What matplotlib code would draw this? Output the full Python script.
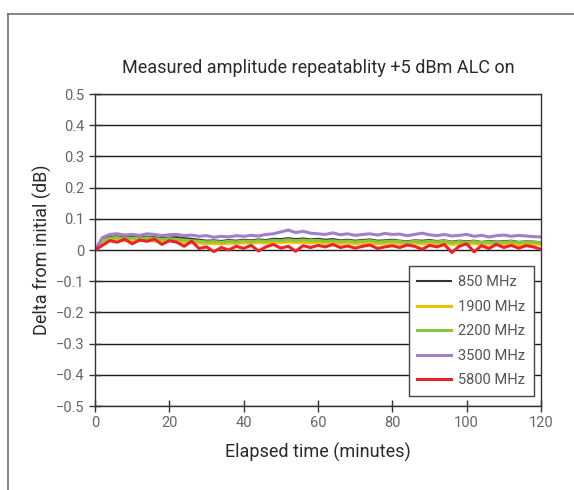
import numpy as np
import matplotlib
matplotlib.use('Agg')
import matplotlib.pyplot as plt
from matplotlib.lines import Line2D

plt.rcParams['font.family'] = ['Roboto', 'DejaVu Sans']

# elapsed time, minutes (2-minute samples)
t = np.arange(0, 121, 2)

mhz_850 = [0.0, 0.035, 0.042, 0.044, 0.040, 0.042, 0.040, 0.043, 0.041, 0.038,
           0.040, 0.041, 0.038, 0.036, 0.033, 0.030, 0.031, 0.029, 0.032, 0.030,
           0.033, 0.031, 0.034, 0.032, 0.036, 0.035, 0.038, 0.035, 0.037, 0.034,
           0.036, 0.033, 0.035, 0.031, 0.033, 0.030, 0.032, 0.034, 0.030, 0.031,
           0.033, 0.030, 0.028, 0.031, 0.030, 0.032, 0.029, 0.031, 0.027, 0.030,
           0.028, 0.030, 0.026, 0.029, 0.027, 0.028, 0.030, 0.026, 0.028, 0.027,
           0.025]
mhz_1900 = [0.0, 0.025, 0.030, 0.033, 0.030, 0.028, 0.030, 0.032, 0.029, 0.027,
            0.030, 0.028, 0.025, 0.024, 0.022, 0.020, 0.021, 0.019, 0.022, 0.021,
            0.023, 0.022, 0.024, 0.022, 0.025, 0.024, 0.026, 0.024, 0.025, 0.023,
            0.025, 0.022, 0.024, 0.021, 0.023, 0.020, 0.022, 0.023, 0.020, 0.021,
            0.023, 0.021, 0.019, 0.022, 0.020, 0.022, 0.020, 0.023, 0.018, 0.020,
            0.019, 0.021, 0.018, 0.020, 0.017, 0.019, 0.021, 0.018, 0.020, 0.019,
            0.018]
mhz_2200 = [0.0, 0.030, 0.038, 0.040, 0.036, 0.038, 0.036, 0.039, 0.037, 0.034,
            0.036, 0.034, 0.032, 0.030, 0.028, 0.026, 0.027, 0.025, 0.028, 0.026,
            0.029, 0.027, 0.030, 0.028, 0.031, 0.030, 0.033, 0.030, 0.032, 0.030,
            0.031, 0.028, 0.030, 0.027, 0.029, 0.026, 0.028, 0.030, 0.026, 0.027,
            0.029, 0.027, 0.025, 0.028, 0.026, 0.028, 0.026, 0.029, 0.024, 0.027,
            0.025, 0.027, 0.024, 0.026, 0.023, 0.025, 0.027, 0.024, 0.026, 0.025,
            0.023]
mhz_3500 = [0.0, 0.040, 0.050, 0.052, 0.048, 0.050, 0.047, 0.052, 0.050, 0.046,
            0.049, 0.050, 0.046, 0.048, 0.044, 0.046, 0.041, 0.044, 0.042, 0.046,
            0.044, 0.047, 0.045, 0.050, 0.052, 0.058, 0.064, 0.056, 0.060, 0.054,
            0.052, 0.050, 0.055, 0.049, 0.052, 0.047, 0.050, 0.052, 0.048, 0.053,
            0.050, 0.051, 0.046, 0.050, 0.054, 0.049, 0.046, 0.050, 0.045, 0.047,
            0.050, 0.044, 0.047, 0.042, 0.046, 0.048, 0.044, 0.047, 0.045, 0.043,
            0.042]
mhz_5800 = [0.0, 0.015, 0.030, 0.025, 0.035, 0.020, 0.032, 0.028, 0.035, 0.018,
            0.030, 0.025, 0.012, 0.028, 0.005, 0.010, -0.005, 0.008, 0.000, 0.012,
            0.005, 0.015, -0.003, 0.010, 0.018, 0.006, 0.012, -0.004, 0.014, 0.008,
            0.015, 0.010, 0.018, 0.008, 0.013, 0.006, 0.012, 0.016, 0.005, 0.010,
            0.014, 0.008, 0.016, 0.012, 0.002, 0.015, 0.010, 0.018, -0.008, 0.012,
            0.020, -0.006, 0.014, 0.005, 0.018, 0.008, 0.015, 0.006, 0.014, 0.010,
            0.002]

series = [
    ('850 MHz', mhz_850, '#333333', 1.5),
    ('1900 MHz', mhz_1900, '#f2c200', 2.2),
    ('2200 MHz', mhz_2200, '#8cc43f', 2.2),
    ('3500 MHz', mhz_3500, '#a27fc9', 2.2),
    ('5800 MHz', mhz_5800, '#e8242a', 2.2),
]

fig = plt.figure(figsize=(5.74, 4.90), dpi=100)
ax = fig.add_axes([0.1655, 0.1714, 0.777, 0.6367])

# grey outer frame of the figure panel
fig.add_artist(Line2D([8/574, 8/574], [0, 1 - 14/490], transform=fig.transFigure,
                      color='#6e6e6e', lw=1.2))
fig.add_artist(Line2D([8/574, 1], [1 - 14/490, 1 - 14/490], transform=fig.transFigure,
                      color='#6e6e6e', lw=1.2))

for label, vals, col, lw in series:
    ax.plot(t, vals, color=col, lw=lw, label=label)

ax.set_xlim(0, 120)
ax.set_ylim(-0.5, 0.5)
ax.set_xticks(np.arange(0, 121, 20))
ax.set_yticks(np.round(np.arange(-0.5, 0.51, 0.1), 1))
ax.set_yticklabels(['\u22120.5', '\u22120.4', '\u22120.3', '\u22120.2', '\u22120.1',
                    '0', '0.1', '0.2', '0.3', '0.4', '0.5'])
ax.yaxis.grid(True, color='#1a1a1a', lw=1.0)
ax.set_axisbelow(True)
ax.tick_params(direction='inout', length=8, width=1, labelsize=10.5,
               labelcolor='#666666', color='#333333')
for s in ax.spines.values():
    s.set_color('#333333')
    s.set_linewidth(1.0)

ax.set_xlabel('Elapsed time (minutes)', fontsize=13, color='#2a2a2a', labelpad=9)
ax.set_ylabel('Delta from initial (dB)', fontsize=13, color='#2a2a2a', labelpad=3)
ax.set_title('Measured amplitude repeatablity +5 dBm ALC on', fontsize=13,
             color='#2a2a2a', pad=15)

leg = ax.legend(loc='upper left', bbox_to_anchor=(0.687, 0.471), fancybox=False,
                edgecolor='#444444', framealpha=1, fontsize=10.5, handlelength=2.3,
                handletextpad=0.45, labelspacing=0.72, borderpad=0.6)
leg.get_frame().set_linewidth(1.0)
for txt in leg.get_texts():
    txt.set_color('#555555')

fig.savefig('out.png', dpi=100)
